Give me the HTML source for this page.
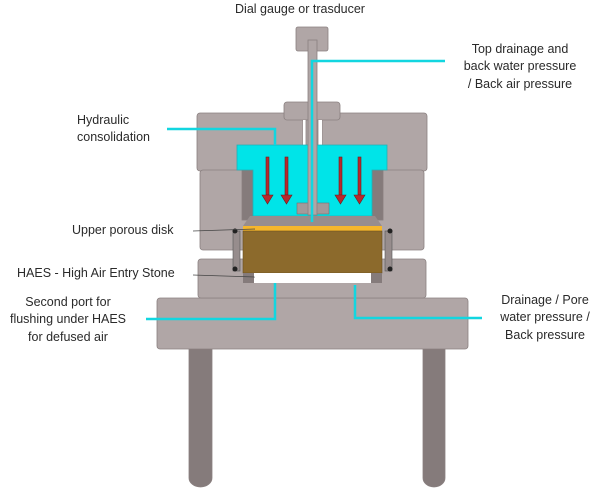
<!DOCTYPE html>
<html><head><style>body{margin:0;background:#fff}svg{display:block}text{font-family:"Liberation Sans",sans-serif;font-size:12.5px;fill:#2a2a2a}</style></head><body>
<svg width="600" height="489" viewBox="0 0 600 489" xmlns="http://www.w3.org/2000/svg">
<g stroke="#8a8080" stroke-width="0.8">
<!-- legs -->
<path d="M189 345 H212 V478 a11.5 9 0 0 1 -23 0 Z" fill="#857b7b"/>
<path d="M423 345 H445 V478 a11 9 0 0 1 -22 0 Z" fill="#857b7b"/>
<!-- base -->
<rect x="157" y="298" width="311" height="51" rx="3" fill="#b0a6a6"/>
<!-- lower block -->
<rect x="198" y="259" width="228" height="39" rx="3" fill="#b0a6a6"/>
<!-- upper blocks -->
<rect x="197" y="113" width="106" height="58" rx="3" fill="#b0a6a6"/>
<rect x="322" y="113" width="105" height="58" rx="3" fill="#b0a6a6"/>
<rect x="200" y="170" width="50" height="80" rx="3" fill="#b0a6a6"/>
<rect x="374" y="170" width="50" height="80" rx="3" fill="#b0a6a6"/>
<!-- cap -->
<rect x="284" y="102" width="56" height="18" rx="3" fill="#b0a6a6"/>
<rect x="303" y="120" width="19" height="25" fill="#fff" stroke="none"/>
<rect x="306" y="120" width="12" height="25" fill="#b0a6a6"/>
<!-- inner dark walls -->
<rect x="242" y="170" width="12" height="50" fill="#857b7b"/>
<rect x="371" y="170" width="12" height="50" fill="#857b7b"/>
</g>
<!-- cyan chamber -->
<path d="M237 145 H387 V170 H372 V216 H253 V170 H237 Z" fill="#00e4e8" stroke="#20b0b5" stroke-width="0.8"/>
<!-- trapezoid -->
<path d="M250 216 H375 L382 226 H243 Z" fill="#978d8d"/>
<!-- piston head -->
<rect x="297" y="203" width="32" height="11" fill="#a49a9a" stroke="#7a7070" stroke-width="0.6"/>
<!-- arrows -->
<g fill="#b8282c" stroke="#6a2020" stroke-width="0.6">
<rect x="266" y="157" width="3" height="38"/><path d="M262 195 h11 l-5.5 9 z"/>
<rect x="285" y="157" width="3" height="38"/><path d="M281 195 h11 l-5.5 9 z"/>
<rect x="339" y="157" width="3" height="38"/><path d="M335 195 h11 l-5.5 9 z"/>
<rect x="358" y="157" width="3" height="38"/><path d="M354 195 h11 l-5.5 9 z"/>
</g>
<!-- dial top -->
<rect x="296" y="27" width="32" height="24" rx="2" fill="#b0a6a6" stroke="#8a8080" stroke-width="0.8"/>
<rect x="308" y="40" width="9" height="175" fill="#b0a6a6" stroke="#8a8080" stroke-width="0.8"/>
<!-- porous disk, soil -->
<rect x="243" y="226" width="139" height="5" fill="#f5b62c"/>
<rect x="243" y="231" width="139" height="42" fill="#8c6a2c" stroke="#6a5020" stroke-width="0.6"/>
<!-- clamps -->
<g fill="#978d8d" stroke="#555" stroke-width="0.6">
<rect x="233" y="231" width="7" height="40"/><rect x="385" y="231" width="7" height="40"/>
</g>
<g fill="#222"><circle cx="235" cy="231" r="2.5"/><circle cx="235" cy="269" r="2.5"/><circle cx="390" cy="231" r="2.5"/><circle cx="390" cy="269" r="2.5"/></g>
<!-- stone -->
<rect x="243" y="273" width="11" height="10" fill="#857b7b"/>
<rect x="371" y="273" width="11" height="10" fill="#857b7b"/>
<rect x="254" y="273" width="117" height="10" fill="#fff"/>
<!-- cyan lines -->
<g stroke="#12d6e0" stroke-width="2.5" fill="none">
<path d="M445 61 H312 V222"/>
<path d="M167 129 H275 V145"/>
<path d="M146 319 H275 V283"/>
<path d="M482 318 H355 V285"/>
</g>
<!-- leader lines -->
<g stroke="#444" stroke-width="0.7"><line x1="193" y1="231" x2="255" y2="229"/><line x1="193" y1="275" x2="255" y2="277"/></g>
<!-- labels -->
<text x="300" y="13" text-anchor="middle">Dial gauge or trasducer</text>
<text x="520" y="53" text-anchor="middle">Top drainage and</text>
<text x="520" y="70" text-anchor="middle">back water pressure</text>
<text x="520" y="88" text-anchor="middle">/ Back air pressure</text>
<text x="77" y="124">Hydraulic</text>
<text x="77" y="141">consolidation</text>
<text x="72" y="234">Upper porous disk</text>
<text x="17" y="277">HAES - High Air Entry Stone</text>
<text x="68" y="306" text-anchor="middle">Second port for</text>
<text x="68" y="323" text-anchor="middle">flushing under HAES</text>
<text x="68" y="341" text-anchor="middle">for defused air</text>
<text x="545" y="304" text-anchor="middle">Drainage / Pore</text>
<text x="545" y="321" text-anchor="middle">water pressure /</text>
<text x="545" y="339" text-anchor="middle">Back pressure</text>
</svg>
</body></html>
